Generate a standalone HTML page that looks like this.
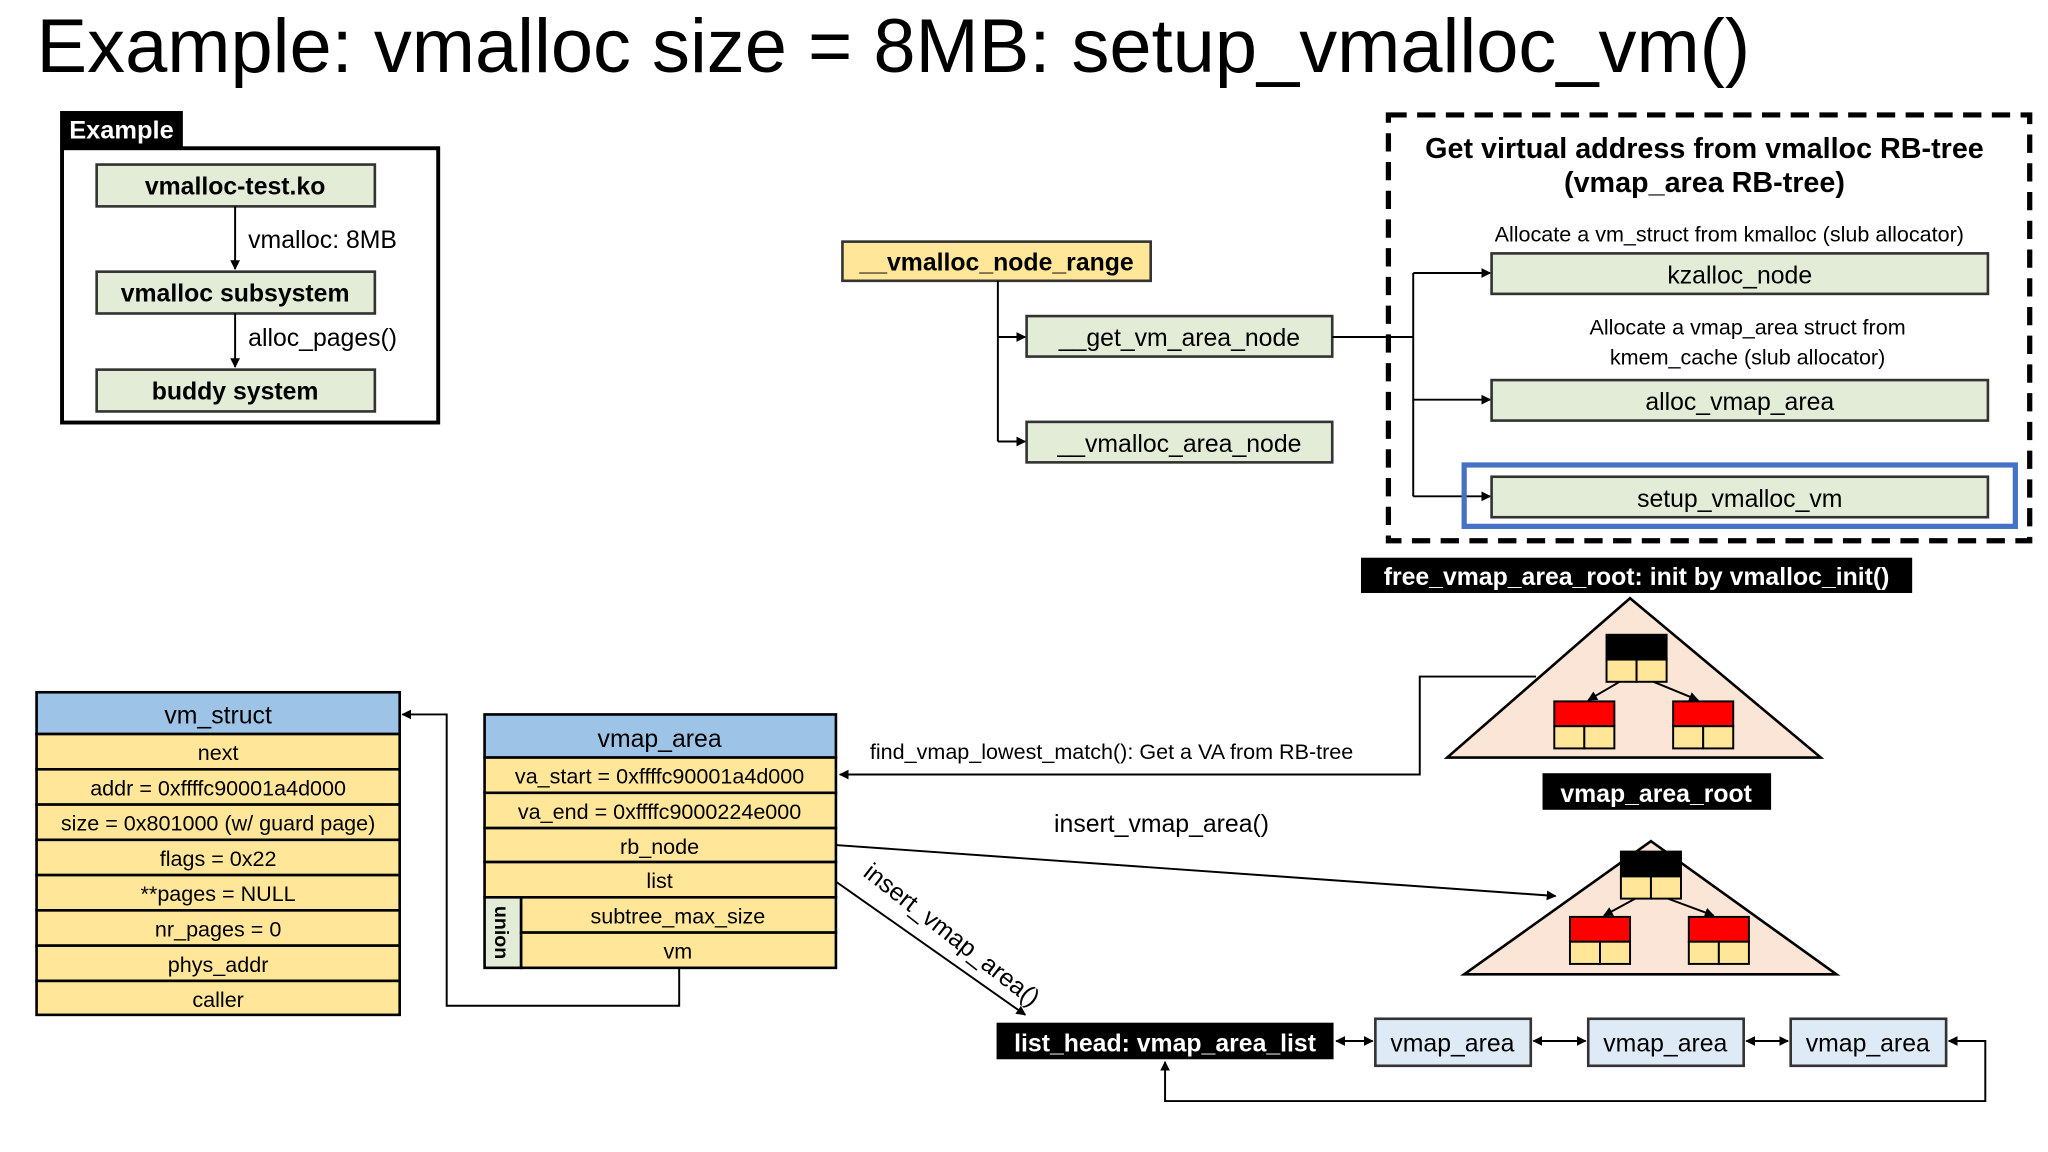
<!DOCTYPE html>
<html><head><meta charset="utf-8"><style>html,body{margin:0;padding:0;background:#fff}svg{display:block}text{font-family:"Liberation Sans",sans-serif}</style></head><body>
<svg width="2048" height="1152" viewBox="0 0 1568 882" xmlns="http://www.w3.org/2000/svg">
<defs><marker id="a" viewBox="0 0 10 10" refX="9" refY="5" markerWidth="5" markerHeight="5" orient="auto-start-reverse"><path d="M0,0L10,5L0,10z" fill="#000"/></marker></defs>
<rect width="1568" height="882" fill="#fff"/>
<text x="28" y="55" font-size="58" textLength="1312" lengthAdjust="spacingAndGlyphs">Example: vmalloc size = 8MB: setup_vmalloc_vm()</text>

<!-- Example box -->
<rect x="46" y="85" width="94" height="28" fill="#000"/>
<text x="53" y="106" font-size="19" font-weight="bold" fill="#fff" textLength="80" lengthAdjust="spacingAndGlyphs">Example</text>
<rect x="47.5" y="113.5" width="288" height="210" fill="none" stroke="#000" stroke-width="3"/>
<g font-size="19" font-weight="bold" text-anchor="middle">
<rect x="74" y="126" width="213" height="32" fill="#e2ecd7" stroke="#333" stroke-width="2"/><text x="180" y="149">vmalloc-test.ko</text>
<rect x="74" y="208" width="213" height="32" fill="#e2ecd7" stroke="#333" stroke-width="2"/><text x="180" y="231">vmalloc subsystem</text>
<rect x="74" y="283" width="213" height="32" fill="#e2ecd7" stroke="#333" stroke-width="2"/><text x="180" y="306">buddy system</text>
</g>
<line x1="180" y1="158" x2="180" y2="206" stroke="#000" stroke-width="1.5" marker-end="url(#a)"/>
<line x1="180" y1="240" x2="180" y2="281" stroke="#000" stroke-width="1.5" marker-end="url(#a)"/>
<text x="190" y="190" font-size="19">vmalloc: 8MB</text>
<text x="190" y="265" font-size="19">alloc_pages()</text>

<!-- call tree -->
<rect x="645" y="185" width="236" height="30" fill="#ffe699" stroke="#333" stroke-width="2"/>
<text x="763" y="207" font-size="19" font-weight="bold" text-anchor="middle">__vmalloc_node_range</text>
<path d="M764,215V338" stroke="#000" stroke-width="1.5" fill="none"/>
<line x1="764" y1="258" x2="785" y2="258" stroke="#000" stroke-width="1.5" marker-end="url(#a)"/>
<line x1="764" y1="338" x2="785" y2="338" stroke="#000" stroke-width="1.5" marker-end="url(#a)"/>
<rect x="786" y="242" width="234" height="31" fill="#e2ecd7" stroke="#333" stroke-width="2"/>
<text x="903" y="265" font-size="19" text-anchor="middle">__get_vm_area_node</text>
<rect x="786" y="323" width="234" height="31" fill="#e2ecd7" stroke="#333" stroke-width="2"/>
<text x="903" y="346" font-size="19" text-anchor="middle">__vmalloc_area_node</text>

<rect x="1063" y="88" width="491" height="326" fill="none" stroke="#000" stroke-width="4" stroke-dasharray="14 8"/>
<path d="M1020,258H1082M1082,209V380" stroke="#000" stroke-width="1.5" fill="none"/>
<line x1="1082" y1="209" x2="1141" y2="209" stroke="#000" stroke-width="1.5" marker-end="url(#a)"/>
<line x1="1082" y1="306" x2="1141" y2="306" stroke="#000" stroke-width="1.5" marker-end="url(#a)"/>
<line x1="1082" y1="380" x2="1141" y2="380" stroke="#000" stroke-width="1.5" marker-end="url(#a)"/>
<text x="1305" y="121" font-size="22" font-weight="bold" text-anchor="middle">Get virtual address from vmalloc RB-tree</text>
<text x="1305" y="147" font-size="22" font-weight="bold" text-anchor="middle">(vmap_area RB-tree)</text>
<text x="1324" y="185" font-size="16.5" text-anchor="middle">Allocate a vm_struct from kmalloc (slub allocator)</text>
<text x="1338" y="256" font-size="16.5" text-anchor="middle">Allocate a vmap_area struct from</text>
<text x="1338" y="279" font-size="16.5" text-anchor="middle">kmem_cache (slub allocator)</text>
<rect x="1121" y="356" width="422" height="47" fill="none" stroke="#4472c4" stroke-width="4"/>
<g font-size="19" text-anchor="middle">
<rect x="1142" y="194" width="380" height="31" fill="#e2ecd7" stroke="#333" stroke-width="2"/><text x="1332" y="217">kzalloc_node</text>
<rect x="1142" y="291" width="380" height="31" fill="#e2ecd7" stroke="#333" stroke-width="2"/><text x="1332" y="314">alloc_vmap_area</text>
<rect x="1142" y="365" width="380" height="31" fill="#e2ecd7" stroke="#333" stroke-width="2"/><text x="1332" y="388">setup_vmalloc_vm</text>
</g>

<!-- trees -->
<rect x="1042" y="427" width="422" height="27" fill="#000"/>
<text x="1253" y="448" font-size="19" font-weight="bold" fill="#fff" text-anchor="middle">free_vmap_area_root: init by vmalloc_init()</text>
<polygon points="1248,458 1108,580 1394,580" fill="#fbe5d6" stroke="#000" stroke-width="2"/>
<g stroke="#000" stroke-width="1.5">
<rect x="1230" y="486" width="46" height="19" fill="#000"/><rect x="1230" y="505" width="23" height="17" fill="#ffe699"/><rect x="1253" y="505" width="23" height="17" fill="#ffe699"/>
<rect x="1190" y="537" width="46" height="19" fill="#f00"/><rect x="1190" y="556" width="23" height="17" fill="#ffe699"/><rect x="1213" y="556" width="23" height="17" fill="#ffe699"/>
<rect x="1281" y="537" width="46" height="19" fill="#f00"/><rect x="1281" y="556" width="23" height="17" fill="#ffe699"/><rect x="1304" y="556" width="23" height="17" fill="#ffe699"/>
<line x1="1240" y1="522" x2="1216" y2="536" marker-end="url(#a)"/><line x1="1266" y1="522" x2="1300" y2="536" marker-end="url(#a)"/>
</g>
<rect x="1181" y="592" width="175" height="28" fill="#000"/>
<text x="1268" y="614" font-size="19" font-weight="bold" fill="#fff" text-anchor="middle">vmap_area_root</text>
<polygon points="1264,644 1121,746 1406,746" fill="#fbe5d6" stroke="#000" stroke-width="2"/>
<g stroke="#000" stroke-width="1.5">
<rect x="1241" y="652" width="46" height="19" fill="#000"/><rect x="1241" y="671" width="23" height="17" fill="#ffe699"/><rect x="1264" y="671" width="23" height="17" fill="#ffe699"/>
<rect x="1202" y="702" width="46" height="19" fill="#f00"/><rect x="1202" y="721" width="23" height="17" fill="#ffe699"/><rect x="1225" y="721" width="23" height="17" fill="#ffe699"/>
<rect x="1293" y="702" width="46" height="19" fill="#f00"/><rect x="1293" y="721" width="23" height="17" fill="#ffe699"/><rect x="1316" y="721" width="23" height="17" fill="#ffe699"/>
<line x1="1252" y1="688" x2="1228" y2="701" marker-end="url(#a)"/><line x1="1277" y1="688" x2="1312" y2="701" marker-end="url(#a)"/>
</g>

<!-- connectors -->
<path d="M1176,518H1087V593H643" stroke="#000" stroke-width="1.5" fill="none" marker-end="url(#a)"/>
<text x="666" y="581" font-size="16.5">find_vmap_lowest_match(): Get a VA from RB-tree</text>
<text x="807" y="637" font-size="19">insert_vmap_area()</text>
<line x1="640" y1="647" x2="1191" y2="686" stroke="#000" stroke-width="1.5" marker-end="url(#a)"/>
<line x1="640" y1="675" x2="785" y2="777" stroke="#000" stroke-width="1.5" marker-end="url(#a)"/>
<text transform="translate(660,670) rotate(38)" font-size="19">insert_vmap_area()</text>

<!-- vm_struct -->
<g stroke="#000" stroke-width="2">
<rect x="28" y="530" width="278" height="32" fill="#9dc3e6"/>
<rect x="28" y="562" width="278" height="27" fill="#ffe699"/>
<rect x="28" y="589" width="278" height="27" fill="#ffe699"/>
<rect x="28" y="616" width="278" height="27" fill="#ffe699"/>
<rect x="28" y="643" width="278" height="27" fill="#ffe699"/>
<rect x="28" y="670" width="278" height="27" fill="#ffe699"/>
<rect x="28" y="697" width="278" height="27" fill="#ffe699"/>
<rect x="28" y="724" width="278" height="27" fill="#ffe699"/>
<rect x="28" y="751" width="278" height="26" fill="#ffe699"/>
</g>
<g font-size="16.5" text-anchor="middle">
<text x="167" y="554" font-size="19">vm_struct</text>
<text x="167" y="582">next</text>
<text x="167" y="609">addr = 0xffffc90001a4d000</text>
<text x="167" y="636">size = 0x801000 (w/ guard page)</text>
<text x="167" y="663">flags = 0x22</text>
<text x="167" y="690">**pages = NULL</text>
<text x="167" y="717">nr_pages = 0</text>
<text x="167" y="744">phys_addr</text>
<text x="167" y="771">caller</text>
</g>

<!-- vmap_area -->
<g stroke="#000" stroke-width="2">
<rect x="371" y="547" width="269" height="33" fill="#9dc3e6"/>
<rect x="371" y="580" width="269" height="27" fill="#ffe699"/>
<rect x="371" y="607" width="269" height="27" fill="#ffe699"/>
<rect x="371" y="634" width="269" height="26" fill="#ffe699"/>
<rect x="371" y="660" width="269" height="27" fill="#ffe699"/>
<rect x="371" y="687" width="28" height="54" fill="#e2ecd7"/>
<rect x="399" y="687" width="241" height="27" fill="#ffe699"/>
<rect x="399" y="714" width="241" height="27" fill="#ffe699"/>
</g>
<g font-size="16.5" text-anchor="middle">
<text x="505" y="572" font-size="19">vmap_area</text>
<text x="505" y="600">va_start = 0xffffc90001a4d000</text>
<text x="505" y="627">va_end = 0xffffc9000224e000</text>
<text x="505" y="654">rb_node</text>
<text x="505" y="680">list</text>
<text x="519" y="707">subtree_max_size</text>
<text x="519" y="734">vm</text>
<text transform="translate(379,714) rotate(90)" font-weight="bold" font-size="15">union</text>
</g>
<path d="M520,741V770H342V547H308" stroke="#000" stroke-width="1.5" fill="none" marker-end="url(#a)"/>

<!-- list -->
<rect x="763" y="783" width="258" height="28" fill="#000"/>
<text x="892" y="805" font-size="19" font-weight="bold" fill="#fff" text-anchor="middle">list_head: vmap_area_list</text>
<g font-size="19" text-anchor="middle" stroke-width="2">
<rect x="1053" y="780" width="119" height="36" fill="#deebf7" stroke="#333"/><text x="1112" y="805">vmap_area</text>
<rect x="1216" y="780" width="119" height="36" fill="#deebf7" stroke="#333"/><text x="1275" y="805">vmap_area</text>
<rect x="1371" y="780" width="119" height="36" fill="#deebf7" stroke="#333"/><text x="1430" y="805">vmap_area</text>
</g>
<g stroke="#000" stroke-width="1.5" fill="none">
<line x1="1023" y1="797" x2="1051" y2="797" marker-start="url(#a)" marker-end="url(#a)"/>
<line x1="1174" y1="797" x2="1214" y2="797" marker-start="url(#a)" marker-end="url(#a)"/>
<line x1="1337" y1="797" x2="1369" y2="797" marker-start="url(#a)" marker-end="url(#a)"/>
<path d="M1492,797H1520V843H892V813" marker-start="url(#a)" marker-end="url(#a)"/>
</g>
</svg>
</body></html>
